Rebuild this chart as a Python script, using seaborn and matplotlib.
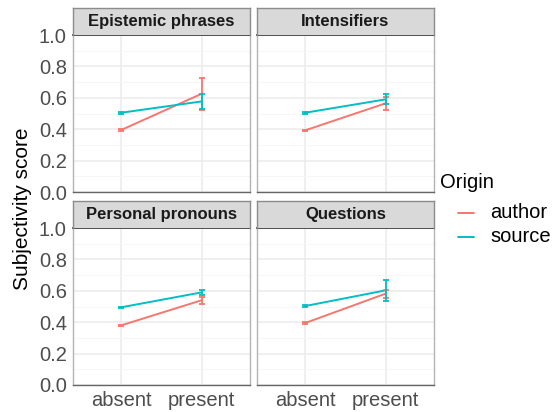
import matplotlib
matplotlib.use("Agg")
import matplotlib.pyplot as plt
import seaborn as sns
import pandas as pd
import numpy as np
from matplotlib.lines import Line2D

sns.set_theme(style="white")
plt.rcParams['font.family'] = ['Liberation Sans', 'DejaVu Sans']

facets = ["Epistemic phrases", "Intensifiers", "Personal pronouns", "Questions"]
levels = ["absent", "present"]
origins = ["author", "source"]

# means: [facet][origin] -> [absent, present]
author_mean = [[0.395, 0.626], [0.393, 0.565], [0.380, 0.540], [0.395, 0.582]]
source_mean = [[0.505, 0.577], [0.505, 0.590], [0.495, 0.590], [0.503, 0.603]]
author_lo = [[0.390, 0.525], [0.388, 0.522], [0.376, 0.518], [0.390, 0.556]]
author_hi = [[0.400, 0.728], [0.398, 0.608], [0.384, 0.562], [0.400, 0.606]]
source_lo = [[0.500, 0.528], [0.500, 0.562], [0.490, 0.575], [0.498, 0.535]]
source_hi = [[0.510, 0.626], [0.510, 0.622], [0.500, 0.605], [0.508, 0.671]]

palette = {"author": "#F8766D", "source": "#00BFC4"}

rows = []
for fi, f in enumerate(facets):
    for o, m, lo, hi in zip(origins,
                            [author_mean[fi], source_mean[fi]],
                            [author_lo[fi], source_lo[fi]],
                            [author_hi[fi], source_hi[fi]]):
        for li, lev in enumerate(levels):
            rows.append(dict(facet=f, Origin=o, level=lev, x=li,
                             score=m[li], lo=lo[li], hi=hi[li]))
df = pd.DataFrame(rows)

W, H = 556, 412
fig = plt.figure(figsize=(W / 100, H / 100), dpi=100)

panel_x = [73, 257]
panel_w = 177
panel_top = [35, 228]
panel_h = 157
strip_h = 27

grid_major = "#EBEBEB"
grid_minor = "#F5F5F5"
tick_col = "#4D4D4D"
TICK_FS = 14.5

for i, f in enumerate(facets):
    r, c = divmod(i, 2)
    x0 = panel_x[c]
    y0 = panel_top[r]
    ax = fig.add_axes([x0 / W, 1 - (y0 + panel_h) / H, panel_w / W, panel_h / H])
    sub = df[df.facet == f]
    ax.set_xlim(-0.6, 1.6)
    ax.set_ylim(0, 1)
    ax.set_yticks(np.arange(0, 1.01, 0.2))
    ax.set_yticks(np.arange(0.1, 1.0, 0.2), minor=True)
    ax.set_xticks([0, 1])
    ax.grid(True, which="major", color=grid_major, lw=1.1, zorder=0)
    ax.grid(True, which="minor", axis="y", color=grid_minor, lw=0.6, zorder=0)
    ax.set_axisbelow(True)
    sns.lineplot(data=sub, x="x", y="score", hue="Origin", palette=palette,
                 hue_order=origins, ax=ax, legend=False, lw=1.4, estimator=None)
    for o in origins:
        s = sub[sub.Origin == o]
        ax.errorbar(s["x"], s["score"],
                    yerr=[s["score"] - s["lo"], s["hi"] - s["score"]],
                    fmt="none", ecolor=palette[o], elinewidth=1.3,
                    capsize=1.9, capthick=1.3, zorder=3)
    for side in ["left", "right"]:
        ax.spines[side].set_color("#B3B3B3")
        ax.spines[side].set_linewidth(1.0)
    ax.spines["top"].set_color("#333333")
    ax.spines["top"].set_linewidth(1.2)
    ax.spines["bottom"].set_color("#666666")
    ax.spines["bottom"].set_linewidth(1.0)
    ax.set_xlabel("")
    ax.set_ylabel("")
    ax.tick_params(which="minor", length=0)
    if c == 0:
        ax.set_yticklabels([f"{v:.1f}" for v in np.arange(0, 1.01, 0.2)])
        ax.tick_params(axis="y", which="major", length=3, width=1.0, color="#B3B3B3",
                       labelsize=TICK_FS, labelcolor=tick_col, pad=1.5)
    else:
        ax.tick_params(axis="y", which="major", length=0, labelleft=False)
    if r == 1:
        ax.set_xticklabels(levels)
        ax.tick_params(axis="x", length=3, width=1.0, color="#666666",
                       labelsize=TICK_FS, labelcolor=tick_col, pad=1.5)
    else:
        ax.tick_params(axis="x", length=0, labelbottom=False)

    sax = fig.add_axes([x0 / W, 1 - y0 / H, panel_w / W, strip_h / H])
    sax.set_facecolor("#D9D9D9")
    sax.set_xticks([])
    sax.set_yticks([])
    for sp in sax.spines.values():
        sp.set_color("#8C8C8C")
        sp.set_linewidth(1.0)
    sax.spines["bottom"].set_visible(False)
    sax.text(0.5, 0.5, f, ha="center", va="center", fontsize=12,
             fontweight="bold", color="#1A1A1A", transform=sax.transAxes)

fig.text(23 / W, 1 - 209 / H, "Subjectivity score", rotation=90,
         ha="center", va="center", fontsize=15, color="black")

# legend
fig.text(440 / W, 1 - 182 / H, "Origin", ha="left", va="center",
         fontsize=14.5, color="black")
for k, o in enumerate(origins):
    yy = 1 - (213 + 24 * k) / H
    fig.add_artist(Line2D([458 / W, 474 / W], [yy, yy], color=palette[o], lw=1.4))
    fig.text(490 / W, yy, o, ha="left", va="center", fontsize=14.5, color="black")

fig.savefig("out.png", dpi=100)
